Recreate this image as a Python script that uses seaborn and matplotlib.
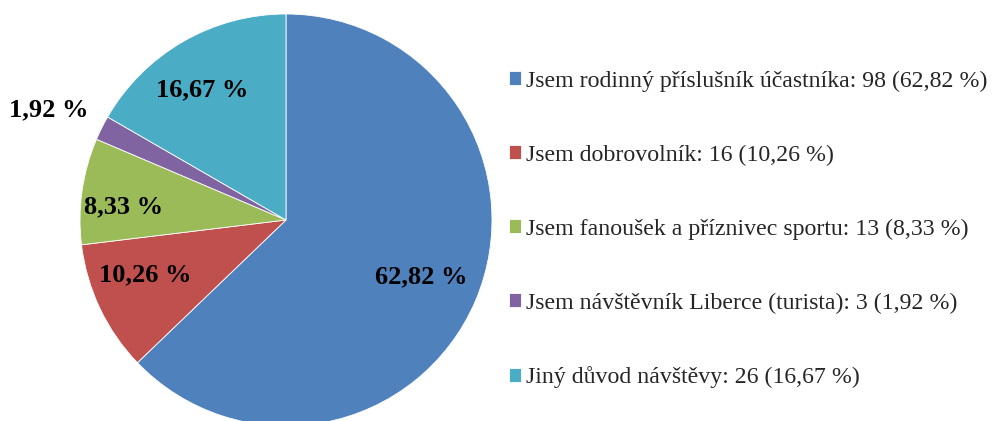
import numpy as np
import matplotlib
matplotlib.use("Agg")
import matplotlib.pyplot as plt
import seaborn as sns

# survey answers (counts)
categories = [
    "Jsem rodinný příslušník účastníka",
    "Jsem dobrovolník",
    "Jsem fanoušek a příznivec sportu",
    "Jsem návštěvník Liberce (turista)",
    "Jiný důvod návštěvy",
]
counts = [98, 16, 13, 3, 26]
colors = ["#4F81BD", "#C0504D", "#9BBB59", "#8064A2", "#4BACC6"]


def fmt_pct(p):
    # czech decimal comma
    return f"{p:.2f} %".replace(".", ",")


sns.set_theme(style="white")
plt.rcParams["font.family"] = ["Liberation Serif", "DejaVu Serif"]

pcts = np.array(counts) / np.sum(counts) * 100
legend_labels = [f"{c}: {n} ({fmt_pct(p)})" for c, n, p in zip(categories, counts, pcts)]

fig = plt.figure(figsize=(9.92, 4.21), dpi=100)
W, H = 992, 421
cx, cy, r = 286, 220, 206
ax = fig.add_axes([(cx - r) / W, (H - cy - r) / H, 2 * r / W, 2 * r / H])

wedges, texts, autotexts = ax.pie(
    counts, colors=sns.color_palette(colors), startangle=90, counterclock=False,
    autopct=fmt_pct, pctdistance=0.73, radius=1,
    wedgeprops=dict(linewidth=0.6, edgecolor="white"),
    textprops=dict(fontsize=19, fontweight="bold", color="black"),
)
ax.set_aspect("equal")
ax.set_xlim(-1, 1)
ax.set_ylim(-1, 1)
ax.axis("off")

# nudge labels the way excel places them (distance, angle shift in deg)
label_dist = [0.71, 0.735, 0.79, 1.27, 0.75]
label_shift = [0.2, -4.1, 3.5, 1.7, 2.9]
for w, t, d, s in zip(wedges, autotexts, label_dist, label_shift):
    ang = np.deg2rad((w.theta1 + w.theta2) / 2 + s)
    t.set_position((d * np.cos(ang), d * np.sin(ang)))

fig.legend(
    wedges, legend_labels, loc="upper left", bbox_to_anchor=(499 / W, 1 - 61 / H),
    frameon=False, fontsize=17.2, handlelength=0.5, handleheight=0.5,
    handletextpad=0.25, labelspacing=2.21, borderaxespad=0,
)

fig.savefig("out.png", dpi=100)
